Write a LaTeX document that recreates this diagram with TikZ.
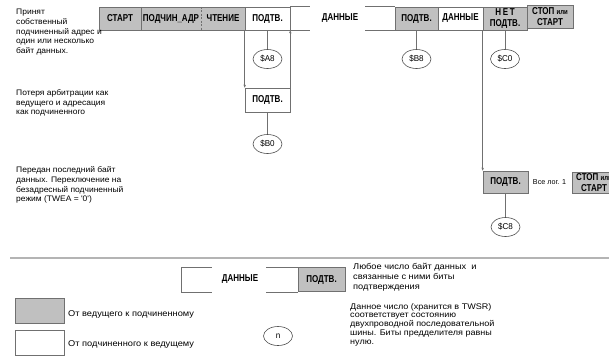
\documentclass[tikz,border=0pt]{standalone}
\usepackage{fontspec}
\setmainfont{Liberation Sans}
\newfontfamily\narrowfont[FakeStretch=0.8]{Liberation Sans}
\newfontfamily\widefont[FakeStretch=1.06]{Liberation Sans}
\newfontfamily\lwidefont[FakeStretch=1.1]{Liberation Sans}
\newfontfamily\codefont[FakeStretch=0.95]{Liberation Sans}
\usetikzlibrary{arrows.meta,shapes.geometric}
\definecolor{boxgray}{HTML}{C0C0C0}
\definecolor{linegray}{HTML}{707070}
\definecolor{sepgray}{HTML}{B4B4B4}
\tikzset{
 lbl/.style={font=\narrowfont\fontsize{10}{10.5}\selectfont\bfseries, inner sep=0pt, align=center},
 gfill/.style={lbl, fill=boxgray, minimum height=23pt},
 gbox/.style={gfill, draw=linegray, line width=0.6pt},
 wbox/.style={lbl, fill=white, minimum height=23pt, draw=linegray, line width=0.6pt},
 code/.style={ellipse, draw=black!70, line width=0.6pt, fill=white, minimum width=29pt, minimum height=19pt, inner sep=0pt, font=\codefont\fontsize{8.5}{9}\selectfont},
 conn/.style={draw=linegray, line width=0.7pt},
 edge/.style={draw=linegray, line width=0.6pt},
 tip/.style={-{Stealth[length=3pt,width=2.5pt]}},
 note/.style={font=\widefont\fontsize{8}{9.7}\selectfont, align=left, inner sep=0pt, anchor=north west},
 lnote/.style={note, font=\lwidefont\fontsize{8.4}{10}\selectfont},
}
\newcommand{\ili}{{\fontsize{7.5}{8}\selectfont или}}
\begin{document}
\begin{tikzpicture}[x=1pt,y=-1pt]
\useasboundingbox (0,0) rectangle (609,360);
% top row
\node[gfill, minimum width=42pt] (start) at (120,18.5) {СТАРТ};
\node[gfill, minimum width=60pt] (adr) at (171,18.5) {ПОДЧИН\_АДР};
\node[gfill, minimum width=44pt] (rd) at (223,18.5) {ЧТЕНИЕ};
\draw[edge] (start.north west) rectangle (rd.south east);
\draw[edge] (start.north east) -- (start.south east);
\draw[edge, dash pattern=on 2pt off 1.5pt] (adr.north east) -- (adr.south east);
\node[wbox, minimum width=45pt] (ack1) at (267.5,18.5) {ПОДТВ.};
\node[lbl] (data1) at (340,18.5) {ДАННЫЕ};
\node[gbox, minimum width=43pt] (ack2) at (416.5,18.5) {ПОДТВ.};
\draw[edge] (ack1.north east) -- ++(20,0);
\draw[edge] (ack1.south east) -- ++(20,0);
\draw[edge] (ack2.north west) -- ++(-30,0);
\draw[edge] (ack2.south west) -- ++(-30,0);
\node[wbox, minimum width=45pt] (data2) at (460.5,18.5) {ДАННЫЕ};
\node[gbox, minimum width=44pt] (nack) at (505,18.5) {Н\,Е\,Т\\ПОДТВ.};
\node[gbox, minimum width=46pt] (stop1) at (550,16.5) {СТОП \ili\\СТАРТ};
% arbitration lost
\node[wbox, minimum width=45pt, minimum height=24pt] (ack3) at (267.5,100) {ПОДТВ.};
\draw[conn, tip] (ack1.south west) -- (ack3.north west);
\draw[conn, tip] (ack3.north east) -- (ack1.south east);
% codes
\node[code] (a8) at (267.5,59) {\$A8};
\node[code] (b8) at (416.5,59) {\$B8};
\node[code] (c0) at (505,59) {\$C0};
\node[code] (b0) at (267.5,144) {\$B0};
\draw[conn] (ack1) -- (a8);
\draw[conn] (ack2) -- (b8);
\draw[conn] (nack) -- (c0);
\draw[conn] (ack3) -- (b0);
% last byte
\node[gbox, minimum width=45pt, minimum height=22pt] (ack4) at (505.5,182) {ПОДТВ.};
\draw[conn, tip] (nack.south west) -- (ack4.north west);
\node[code] (c8) at (505.5,227) {\$C8};
\draw[conn] (ack4) -- (c8);
\node[font=\fontsize{7.2}{8}\selectfont, inner sep=0pt] (all1) at (549.5,182) {Все лог. 1};
\node[gbox, minimum width=44pt, minimum height=21pt] (stop2) at (594,182.5) {СТОП \ili\\СТАРТ};
% left notes
\node[note] (n1) at (16,9) {Принят\\собственный\\подчиненный адрес и\\один или несколько\\байт данных.};
\node[note] (n2) at (16,89.5) {Потеря арбитрации как\\ведущего и адресация\\как подчиненного};
\node[note] (n3) at (16,166.5) {Передан последний байт\\данных. Переключение на\\безадресный подчиненный\\режим (TWEA = '0')};
% separator
\draw[sepgray, line width=2pt] (10,258) -- (609,258);
% legend
\node[lbl] (ldata) at (240,279.5) {ДАННЫЕ};
\node[gbox, minimum width=47pt, minimum height=24pt] (lack) at (321.5,279.5) {ПОДТВ.};
\draw[edge] (lack.north west) ++(-116,0) coordinate (lnw) -- ++(30,0);
\draw[edge] (lnw) -- (lnw |- lack.south west) coordinate (lsw) -- ++(30,0);
\draw[edge] (lack.north west) -- ++(-32,0);
\draw[edge] (lack.south west) -- ++(-32,0);
\node[lnote] (n4) at (353,263.5) {Любое число байт данных\ \ и\\связанные с ними биты\\подтверждения};
\node[gbox, minimum width=49pt, minimum height=25pt] (lg) at (39.5,310.5) {};
\node[wbox, minimum width=49pt, minimum height=25pt] (lw) at (39.5,342.5) {};
\node[lnote, anchor=west] (lgt) at (68,314) {От ведущего к подчиненному};
\node[lnote, anchor=west] (lwt) at (68,344) {От подчиненного к ведущему};
\node[code] (ln) at (278,336) {n};
\node[lnote, font=\lwidefont\fontsize{8.2}{8.8}\selectfont] (n5) at (350,303) {Данное число (хранится в TWSR)\\соответствует состоянию\\двухпроводной последовательной\\шины. Биты предделителя равны\\нулю.};
\end{tikzpicture}
\end{document}
